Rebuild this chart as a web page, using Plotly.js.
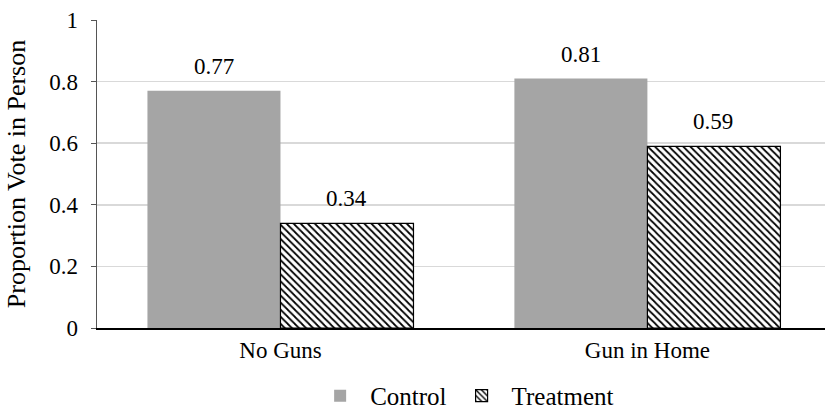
<!DOCTYPE html>
<html><head><meta charset="utf-8">
<script src="https://cdn.plot.ly/plotly-3.0.1.min.js"></script>
<style>body{margin:0;padding:0;background:#fff}#chart{width:825px;height:409px}</style>
</head><body><div id="chart"></div>
<script>
const categories = ["No Guns", "Gun in Home"];
const controlValues = [0.77, 0.81];
const treatmentValues = [0.34, 0.59];
const yTicks = [0, 0.2, 0.4, 0.6, 0.8, 1];
const yTickLabels = ["0", "0.2", "0.4", "0.6", "0.8", "1"];

const fam = "'Liberation Serif', 'Times New Roman', serif";
const font = {family: fam, size: 23, color: "#000"};
const traces = [
  {type: "bar", name: "Control", x: categories, y: controlValues,
   marker: {color: "#a5a5a5", line: {width: 0}}},
  {type: "bar", name: "Treatment", x: categories, y: treatmentValues,
   marker: {color: "#ffffff", line: {color: "#000", width: 1.2},
     pattern: {shape: "\\", fgcolor: "#000", bgcolor: "#fff", size: 5, solidity: 0.35}}}
];
// value labels placed from the data through the axis scales
const halfBar = 66;
const annotations = [];
categories.forEach((c, i) => {
  annotations.push({x: c, y: controlValues[i], xref: "x", yref: "y", text: controlValues[i].toFixed(2),
    showarrow: false, xshift: -halfBar, yshift: 10, yanchor: "bottom", font: font});
  annotations.push({x: c, y: treatmentValues[i], xref: "x", yref: "y", text: treatmentValues[i].toFixed(2),
    showarrow: false, xshift: halfBar, yshift: 10, yanchor: "bottom", font: font});
});
const layout = {
  width: 825, height: 409,
  margin: {l: 97, r: 0, t: 20, b: 81, autoexpand: false},
  paper_bgcolor: "#fff", plot_bgcolor: "#fff",
  font: font,
  barmode: "group", bargap: 0.275, bargroupgap: 0,
  annotations: annotations,
  showlegend: true,
  legend: {orientation: "h", x: 0.505, xanchor: "center", yref: "container", y: 0.032, yanchor: "middle",
    font: {family: fam, size: 25, color: "#000"}, traceorder: "normal", itemwidth: 50},
  xaxis: {range: [-0.5, 1.484], showline: true, linecolor: "#000", linewidth: 2,
    ticks: "", tickfont: font, showgrid: false, zeroline: false, fixedrange: true},
  yaxis: {range: [0, 1], tickvals: yTicks, ticktext: yTickLabels, tickfont: font,
    showline: true, linecolor: "#555", linewidth: 1.5, ticks: "outside", ticklen: 5, tickcolor: "#555",
    ticklabelstandoff: 8,
    showgrid: true, gridcolor: "#d9d9d9", gridwidth: 1.5, zeroline: false,
    title: {text: "Proportion Vote in Person", font: {family: fam, size: 26, color: "#000"}, standoff: 16}}
};
Plotly.newPlot("chart", traces, layout, {displayModeBar: false, staticPlot: true});
</script></body></html>
